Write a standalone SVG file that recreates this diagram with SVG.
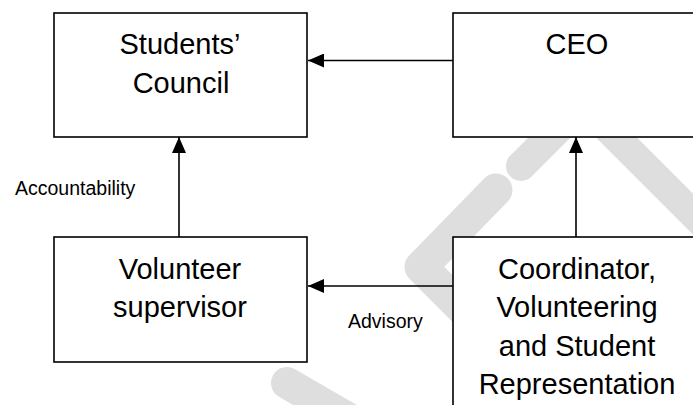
<svg xmlns="http://www.w3.org/2000/svg" width="693" height="405" viewBox="0 0 693 405">
  <style>
    .box { fill: #ffffff; stroke: #000000; stroke-width: 1.6; }
    .lbl { font-family: "Liberation Sans", Arial, sans-serif; font-size: 29px; fill: #000000; text-anchor: middle; }
    .small { font-family: "Liberation Sans", Arial, sans-serif; font-size: 19.5px; fill: #000000; }
    .conn { stroke: #000000; stroke-width: 1.6; fill: none; marker-end: url(#arrow); }
    .wm { stroke: #dedede; stroke-linecap: round; stroke-linejoin: round; fill: none; }
  </style>
  <defs>
    <marker id="arrow" markerUnits="userSpaceOnUse" markerWidth="16" markerHeight="14" refX="16" refY="7" orient="auto">
      <path d="M0,0 L16,7 L0,14 z" fill="#000000"/>
    </marker>
  </defs>
  <rect width="693" height="405" fill="#ffffff"/>

  <g id="watermark">
    <polyline class="wm" stroke-width="33" points="496,190 421,267 490,336"/>
    <line class="wm" stroke-width="30" x1="521" y1="166" x2="575" y2="112"/>
    <line class="wm" stroke-width="29" x1="590" y1="111" x2="720" y2="241"/>
    <line class="wm" stroke-width="32" x1="287" y1="383" x2="387" y2="441"/>
  </g>

  <g id="students-council">
    <rect class="box" x="54" y="13" width="253" height="124"/>
    <text class="lbl" x="180" y="54">Students’</text>
    <text class="lbl" x="181" y="93">Council</text>
  </g>

  <g id="ceo">
    <rect class="box" x="453" y="13" width="260" height="124"/>
    <text class="lbl" x="577" y="54">CEO</text>
  </g>

  <g id="volunteer-supervisor">
    <rect class="box" x="54" y="237" width="253" height="125"/>
    <text class="lbl" x="180" y="279">Volunteer</text>
    <text class="lbl" x="180" y="317">supervisor</text>
  </g>

  <g id="coordinator">
    <rect class="box" x="453" y="237" width="260" height="190"/>
    <text class="lbl" x="577" y="279">Coordinator,</text>
    <text class="lbl" x="577" y="317">Volunteering</text>
    <text class="lbl" x="577" y="356">and Student</text>
    <text class="lbl" x="577" y="394">Representation</text>
  </g>

  <g id="connectors">
    <line class="conn" x1="453" y1="60.5" x2="308" y2="60.5"/>
    <line class="conn" x1="179" y1="237" x2="179" y2="137"/>
    <line class="conn" x1="576" y1="237" x2="576" y2="137"/>
    <line class="conn" x1="453" y1="286" x2="308" y2="286"/>
    <text class="small" x="15" y="195">Accountability</text>
    <text class="small" x="348" y="328">Advisory</text>
  </g>
</svg>
